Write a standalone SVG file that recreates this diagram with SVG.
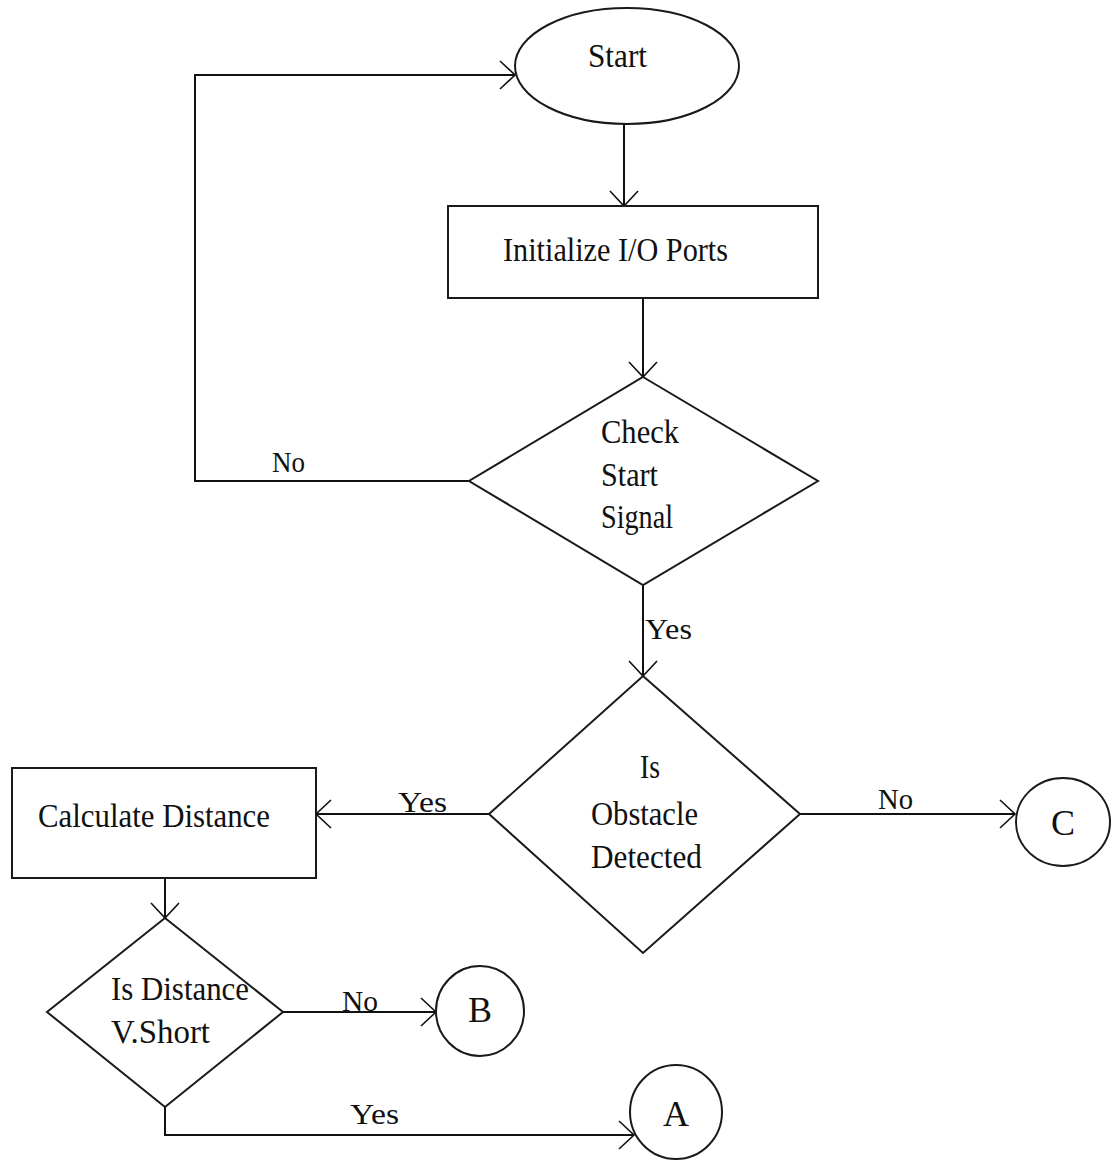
<svg xmlns="http://www.w3.org/2000/svg" width="1111" height="1163" viewBox="0 0 1111 1163">
<defs>
<marker id="arr" markerUnits="userSpaceOnUse" markerWidth="20" markerHeight="32" viewBox="-18 -16 20 32" refX="0" refY="0" orient="auto">
<path d="M-15,-14 L0,0 L-15,14" fill="none" stroke="#111" stroke-width="1.6"/>
</marker>
</defs>
<style>
.shape{fill:#fff;stroke:#1a1a1a;stroke-width:2}
.conn{fill:none;stroke:#111;stroke-width:2;marker-end:url(#arr)}
text{font-family:"Liberation Serif","Times New Roman",serif;font-size:33px;fill:#111}
.lbl{font-size:30px}
.mid{text-anchor:middle;font-size:36px}
</style>
<rect width="1111" height="1163" fill="#fff"/>
<g id="connectors">
<line class="conn" x1="624" y1="124" x2="624" y2="206"/>
<line class="conn" x1="643" y1="298" x2="643" y2="377"/>
<polyline class="conn" points="469,481 195,481 195,75 515,75"/>
<line class="conn" x1="643" y1="585" x2="643" y2="676"/>
<line class="conn" x1="489" y1="814" x2="316" y2="814"/>
<line class="conn" x1="800" y1="814" x2="1015" y2="814"/>
<line class="conn" x1="165" y1="878" x2="165" y2="918"/>
<line class="conn" x1="283" y1="1012" x2="436" y2="1012"/>
<polyline class="conn" points="165,1107 165,1135 634,1135"/>
<text class="lbl" x="272" y="472" textLength="33" lengthAdjust="spacingAndGlyphs">No</text>
<text class="lbl" x="645" y="639" textLength="47" lengthAdjust="spacingAndGlyphs">Yes</text>
<text class="lbl" x="398" y="812" textLength="49" lengthAdjust="spacingAndGlyphs">Yes</text>
<text class="lbl" x="878" y="809" textLength="35" lengthAdjust="spacingAndGlyphs">No</text>
<text class="lbl" x="342" y="1011" textLength="36" lengthAdjust="spacingAndGlyphs">No</text>
<text class="lbl" x="350" y="1124" textLength="49" lengthAdjust="spacingAndGlyphs">Yes</text>
</g>
<g id="start">
<ellipse class="shape" cx="627" cy="66" rx="112" ry="58"/>
<text x="588" y="67" textLength="59" lengthAdjust="spacingAndGlyphs">Start</text>
</g>
<g id="init">
<rect class="shape" x="448" y="206" width="370" height="92"/>
<text x="503" y="261" textLength="225" lengthAdjust="spacingAndGlyphs">Initialize I/O Ports</text>
</g>
<g id="check">
<polygon class="shape" points="643,377 818,481 643,585 469,481"/>
<text x="601" y="443" textLength="78" lengthAdjust="spacingAndGlyphs">Check</text>
<text x="601" y="486" textLength="57" lengthAdjust="spacingAndGlyphs">Start</text>
<text x="601" y="528" textLength="72" lengthAdjust="spacingAndGlyphs">Signal</text>
</g>
<g id="obstacle">
<polygon class="shape" points="643,676 800,814 643,953 489,814"/>
<text x="640" y="778" textLength="20" lengthAdjust="spacingAndGlyphs">Is</text>
<text x="591" y="825" textLength="107" lengthAdjust="spacingAndGlyphs">Obstacle</text>
<text x="591" y="868" textLength="111" lengthAdjust="spacingAndGlyphs">Detected</text>
</g>
<g id="calc">
<rect class="shape" x="12" y="768" width="304" height="110"/>
<text x="38" y="827" textLength="232" lengthAdjust="spacingAndGlyphs">Calculate Distance</text>
</g>
<g id="distance">
<polygon class="shape" points="165,918 283,1012 165,1107 47,1012"/>
<text x="111" y="1000" textLength="138" lengthAdjust="spacingAndGlyphs">Is Distance</text>
<text x="111" y="1043" textLength="99" lengthAdjust="spacingAndGlyphs">V.Short</text>
</g>
<g id="c">
<ellipse class="shape" cx="1063" cy="822" rx="47" ry="44"/>
<text class="mid" x="1063" y="835">C</text>
</g>
<g id="b">
<ellipse class="shape" cx="480" cy="1011" rx="44" ry="45"/>
<text class="mid" x="480" y="1022">B</text>
</g>
<g id="a">
<ellipse class="shape" cx="676" cy="1112" rx="46" ry="47"/>
<text class="mid" x="676" y="1126">A</text>
</g>
</svg>
